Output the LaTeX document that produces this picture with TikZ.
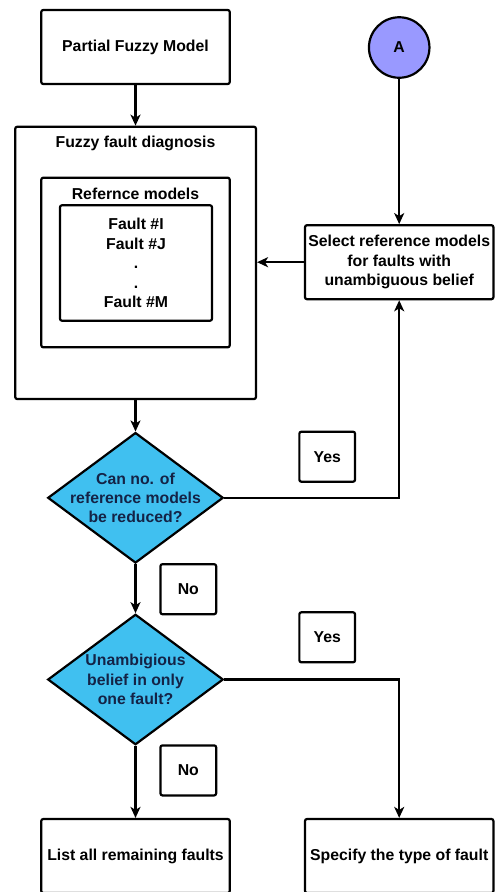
\documentclass[tikz,border=0pt]{standalone}
\usepackage{fontspec}
\setmainfont{Liberation Sans}
\usetikzlibrary{shapes.geometric,arrows.meta}
\definecolor{circfill}{RGB}{153,153,255}
\definecolor{diafill}{RGB}{64,192,240}
\definecolor{diatext}{RGB}{20,35,70}
\begin{document}
\begin{tikzpicture}[x=1pt, y=-1pt, >={Stealth[length=11pt,width=10pt,inset=3pt]}, line width=2.2pt,
		every node/.style={font=\bfseries\fontsize{15.8}{19.4}\selectfont, align=center},
		box/.style={draw, rounded corners=2pt, inner sep=0pt, minimum width=188.4pt, minimum height=74pt},
		tag/.style={draw, rounded corners=2pt, inner sep=0pt, minimum width=55.7pt, minimum height=50pt},
		decision/.style={diamond, draw, fill=diafill, inner sep=0pt, minimum width=175.5pt, minimum height=130.5pt},
		dtext/.style={text=diatext, inner sep=0pt}]
	% 画布
	\useasboundingbox (0,0) rectangle (499,892);
	\clip (0,0) rectangle (499,892);
	
	% 上方两个起点
	\node[box] (pfm) at (135.5,47) {Partial Fuzzy Model};
	\node[circle, draw, fill=circfill, inner sep=0pt, minimum size=60.5pt] (a) at (399.2,47.5) {A};
	
	% 诊断框 (三层)
	\node[box, minimum width=240.7pt, minimum height=272.3pt] (ffd) at (135.6,262.9) {};
	\node[anchor=base] (ffdtitle) at (135.5,147) {Fuzzy fault diagnosis};
	\node[box, minimum height=169.6pt] (refm) at (135.5,262.5) {};
	\node[anchor=base] (refmtitle) at (135.5,199) {Refernce models};
	\node[box, minimum width=152pt, minimum height=115.4pt] (faults) at (136,263) {Fault \#I\\Fault \#J\\.\\.\\Fault \#M};
	
	% 选择参考模型
	\node[box] (sel) at (399.2,262.2) {Select reference models\\for faults with\\unambiguous belief};
	
	% 判断
	\node[decision] (q1) at (135.5,497.8) {};
	\node[dtext] (q1txt) at (q1) {Can no. of\\reference models\\be reduced?};
	\node[decision] (q2) at (135.5,679.5) {};
	\node[dtext] (q2txt) at (q2) {Unambigious\\belief in only\\one fault?};
	
	% Yes / No 标签
	\node[tag] (yes1) at (327.2,456.7) {Yes};
	\node[tag] (no1) at (188.3,589.2) {No};
	\node[tag] (yes2) at (327.2,637.3) {Yes};
	\node[tag] (no2) at (188.3,770.4) {No};
	
	% 结果
	\node[box] (lst) at (135.5,856) {List all remaining faults};
	\node[box] (spec) at (399.2,856) {Specify the type of fault};
	
	% 连线
	\draw[->] (pfm.south) -- (pfm.south |- ffd.north);
	\draw[->] (a) -- (sel);
	\draw[->] (sel.west) -- (sel.west -| ffd.east);
	\draw[->] (q1.north |- ffd.south) -- (q1.north);
	\draw[->] (q1.east) -| (sel.south);
	\draw[->] (q1.south) -- (q2.north);
	\draw[->] (q2.east) -| (spec.north);
	\draw[->] (q2.south) -- (lst.north);
\end{tikzpicture}
\end{document}
